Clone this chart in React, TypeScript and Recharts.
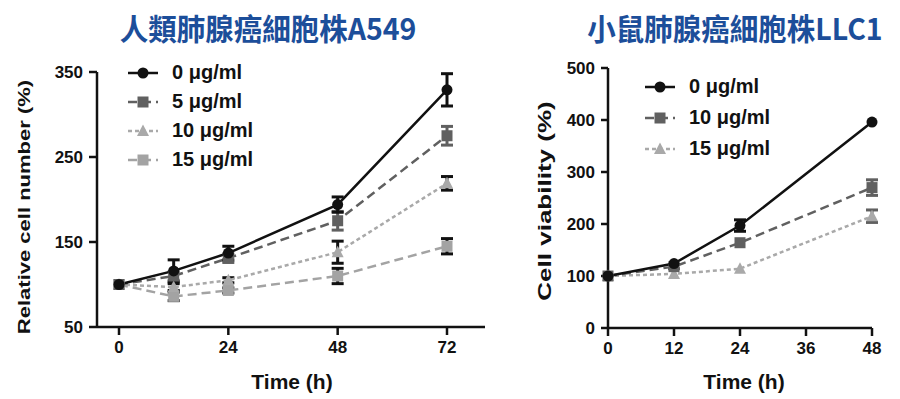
import React from 'react';
import { LineChart, Line, XAxis, YAxis, ErrorBar, Legend } from 'recharts';

// A549 panel (human lung cancer cells)
const hoursA549 = [0, 12, 24, 48, 72];
const a549Dose0 = [100, 116, 137, 194, 329];
const a549Dose0Err = [null, 13, 8, 9, 19];
const a549Dose5 = [100, 110, 131, 175, 275];
const a549Dose5Err = [null, 5, 5, 11, 11];
const a549Dose10 = [100, 97, 105, 138, 219];
const a549Dose10Err = [null, 4, 3, 13, 8];
const a549Dose15 = [100, 86, 93, 110, 145];
const a549Dose15Err = [null, 5, 3, 9, 9];
const a549XTicks = [0, 24, 48, 72];
const a549YTicks = [50, 150, 250, 350];

// LLC1 panel (mouse lung cancer cells)
const hoursLLC1 = [0, 12, 24, 48];
const llcDose0 = [100, 124, 197, 396];
const llcDose0Err = [null, null, 11, null];
const llcDose10 = [100, 118, 164, 270];
const llcDose10Err = [null, 4, null, 15];
const llcDose15 = [100, 104, 114, 215];
const llcDose15Err = [null, null, null, 12];
const llcXTicks = [0, 12, 24, 36, 48];
const llcYTicks = [0, 100, 200, 300, 400, 500];

const FONT = '"Liberation Sans", Arial, Helvetica, sans-serif';
const CJK = '"Noto Sans CJK TC", "Noto Sans CJK SC", sans-serif';
const BLACK = '#111111';
const DARK = '#606060';
const LIGHT = '#a9a9a9';

type Shape = 'circle' | 'square' | 'triangle';
type Series = { key: string; name: string; color: string; dash?: string; shape: Shape; cap: string };

const a549Series: Series[] = [
  { key: 'd0', name: '0 μg/ml', color: BLACK, shape: 'circle', cap: BLACK },
  { key: 'd5', name: '5 μg/ml', color: DARK, dash: '9 5', shape: 'square', cap: DARK },
  { key: 'd10', name: '10 μg/ml', color: LIGHT, dash: '4 3', shape: 'triangle', cap: BLACK },
  { key: 'd15', name: '15 μg/ml', color: '#a3a3a3', dash: '9 5', shape: 'square', cap: BLACK },
];

const llcSeries: Series[] = [
  { key: 'd0', name: '0 μg/ml', color: BLACK, shape: 'circle', cap: BLACK },
  { key: 'd10', name: '10 μg/ml', color: DARK, dash: '9 5', shape: 'square', cap: DARK },
  { key: 'd15', name: '15 μg/ml', color: LIGHT, dash: '4 3', shape: 'triangle', cap: DARK },
];

const a549Data = hoursA549.map((h, i) => ({
  h,
  d0: a549Dose0[i], d0e: a549Dose0Err[i] ?? undefined,
  d5: a549Dose5[i], d5e: a549Dose5Err[i] ?? undefined,
  d10: a549Dose10[i], d10e: a549Dose10Err[i] ?? undefined,
  d15: a549Dose15[i], d15e: a549Dose15Err[i] ?? undefined,
}));

const llcData = hoursLLC1.map((h, i) => ({
  h,
  d0: llcDose0[i], d0e: llcDose0Err[i] ?? undefined,
  d10: llcDose10[i], d10e: llcDose10Err[i] ?? undefined,
  d15: llcDose15[i], d15e: llcDose15Err[i] ?? undefined,
}));

const Marker = ({ shape, cx, cy, color }: { shape: Shape; cx: number; cy: number; color: string }) => {
  if (shape === 'circle') return <circle cx={cx} cy={cy} r={5.5} fill={color} />;
  if (shape === 'square') return <rect x={cx - 5.5} y={cy - 5.5} width={11} height={11} fill={color} />;
  return <polygon points={`${cx},${cy - 6.5} ${cx + 6},${cy + 5} ${cx - 6},${cy + 5}`} fill={color} />;
};

const dotFor = (s: Series) => (props: any) => {
  const { cx, cy, index } = props;
  if (cx == null || cy == null) return <g key={`${s.key}-${index}`} />;
  return (
    <g key={`${s.key}-${index}`}>
      <Marker shape={s.shape} cx={cx} cy={cy} color={s.color} />
    </g>
  );
};

const LegendBox = ({ series, rowH }: { series: Series[]; rowH: number }) => (
  <div style={{ fontFamily: FONT, fontWeight: 700, fontSize: 20, color: BLACK }}>
    {series.map((s) => (
      <div key={s.key} style={{ display: 'flex', alignItems: 'center', height: rowH }}>
        <svg width={30} height={16} style={{ flex: 'none' }}>
          <line x1={0} y1={8} x2={30} y2={8} stroke={s.color} strokeWidth={2.5} strokeDasharray={s.dash} />
          <Marker shape={s.shape} cx={15} cy={8} color={s.color} />
        </svg>
        <span style={{ marginLeft: 14, whiteSpace: 'nowrap' }}>{s.name}</span>
      </div>
    ))}
  </div>
);

const tickStyle = { fill: BLACK, fontSize: 17, fontWeight: 700, fontFamily: FONT };

const renderLines = (series: Series[]) =>
  [...series].reverse().map((s) => (
    <Line
      key={s.key}
      dataKey={s.key}
      name={s.name}
      stroke={s.color}
      strokeWidth={2.5}
      strokeDasharray={s.dash}
      dot={dotFor(s)}
      activeDot={false}
      isAnimationActive={false}
    >
      <ErrorBar dataKey={`${s.key}e`} width={6} strokeWidth={3} stroke={s.cap} direction="y" isAnimationActive={false} />
    </Line>
  ));

const Title = ({ text, cx }: { text: string; cx: number }) => (
  <div
    style={{
      position: 'absolute', left: cx, top: 10, transform: 'translateX(-50%) scaleX(0.95)',
      fontFamily: CJK, fontWeight: 700, fontSize: 30, lineHeight: '34px', color: '#1c4e9a', whiteSpace: 'nowrap',
    }}
  >
    {text}
  </div>
);

const YLabel = ({ text, cx, cy, size, squeeze }: { text: string; cx: number; cy: number; size: number; squeeze: number }) => (
  <div
    style={{
      position: 'absolute', left: cx, top: cy, transform: `translate(-50%, -50%) rotate(-90deg) scaleY(${squeeze})`,
      fontFamily: FONT, fontWeight: 700, fontSize: size, lineHeight: 1, color: BLACK, whiteSpace: 'nowrap',
    }}
  >
    {text}
  </div>
);

const XLabel = ({ text, cx }: { text: string; cx: number }) => (
  <div
    style={{
      position: 'absolute', left: cx, top: 381, transform: 'translate(-50%, -50%)',
      fontFamily: FONT, fontWeight: 700, fontSize: 21, lineHeight: 1, color: BLACK, whiteSpace: 'nowrap',
    }}
  >
    {text}
  </div>
);

export default function App() {
  return (
    <div style={{ position: 'absolute', left: 0, top: 0, width: 900, height: 399, background: '#fff', overflow: 'hidden' }}>
      <div style={{ position: 'absolute', left: 0, top: 0 }}>
        <LineChart width={500} height={399} data={a549Data} margin={{ top: 72, right: 15, bottom: 42, left: 0 }}>
          <XAxis
            dataKey="h" type="number" domain={[0, 72]} ticks={a549XTicks} interval={0}
            padding={{ left: 22, right: 38 }} height={30} tickSize={8} tickMargin={6}
            stroke={BLACK} strokeWidth={2.5} tick={tickStyle}
          />
          <YAxis
            type="number" domain={[50, 350]} ticks={a549YTicks} interval={0} width={97}
            tickSize={8} tickMargin={6} stroke={BLACK} strokeWidth={2.5} tick={tickStyle}
          />
          <Legend
            layout="vertical" align="center" verticalAlign="middle"
            wrapperStyle={{ left: 128, top: 58, width: 170 }}
            content={() => <LegendBox series={a549Series} rowH={29} />}
          />
          {renderLines(a549Series)}
        </LineChart>
      </div>
      <div style={{ position: 'absolute', left: 470, top: 0 }}>
        <LineChart width={430} height={399} data={llcData} margin={{ top: 68, right: 28, bottom: 41, left: 0 }}>
          <XAxis
            dataKey="h" type="number" domain={[0, 48]} ticks={llcXTicks} interval={0}
            height={30} tickSize={8} tickMargin={6} stroke={BLACK} strokeWidth={2.5} tick={tickStyle}
          />
          <YAxis
            type="number" domain={[0, 500]} ticks={llcYTicks} interval={0} width={138}
            tickSize={7} tickMargin={6} stroke={BLACK} strokeWidth={2.5} tick={tickStyle}
          />
          <Legend
            layout="vertical" align="center" verticalAlign="middle"
            wrapperStyle={{ left: 175, top: 71, width: 170 }}
            content={() => <LegendBox series={llcSeries} rowH={31} />}
          />
          {renderLines(llcSeries)}
        </LineChart>
      </div>
      <Title text="人類肺腺癌細胞株A549" cx={268} />
      <Title text="小鼠肺腺癌細胞株LLC1" cx={735} />
      <YLabel text="Relative cell number (%)" cx={25} cy={207} size={22} squeeze={0.78} />
      <YLabel text="Cell viability (%)" cx={544} cy={201} size={26} squeeze={0.74} />
      <XLabel text="Time (h)" cx={292} />
      <XLabel text="Time (h)" cx={744} />
    </div>
  );
}
